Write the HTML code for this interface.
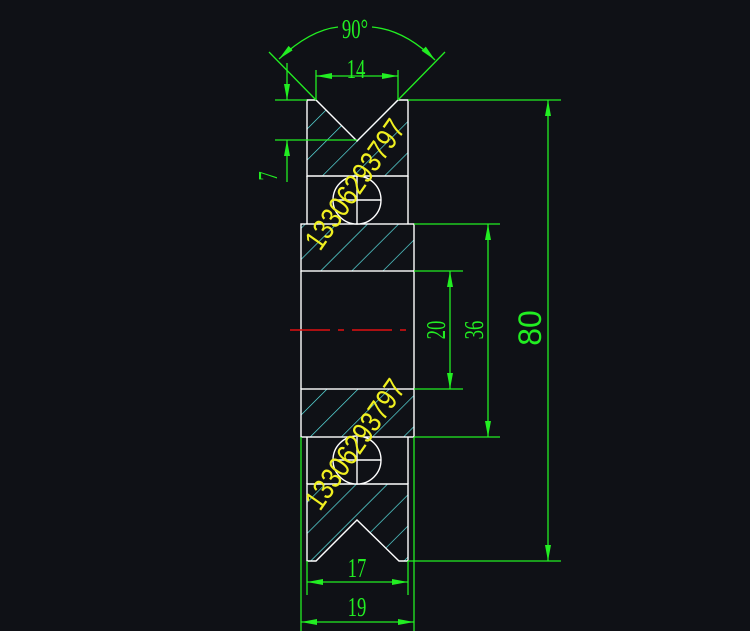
<!DOCTYPE html>
<html><head><style>html,body{margin:0;padding:0;background:#0f1116;}svg{display:block}</style></head>
<body>
<svg width="750" height="631" viewBox="0 0 750 631" xmlns="http://www.w3.org/2000/svg">
<defs>
<pattern id="h" patternUnits="userSpaceOnUse" width="22" height="22" patternTransform="rotate(45)">
<line x1="0" y1="0" x2="0" y2="22" stroke="#5ff0f0" stroke-width="1.3"/>
</pattern>
<marker id="a" viewBox="0 0 16 6" refX="16" refY="3" markerWidth="16" markerHeight="6" markerUnits="userSpaceOnUse" orient="auto-start-reverse">
<path d="M0,0 L16,3 L0,6 z" fill="#22ee22"/>
</marker>
</defs>
<rect width="750" height="631" fill="#0f1116"/>
<g fill="url(#h)" stroke="#fff" stroke-width="1.4">
<polygon points="307,100 316,100 357,141 398,100 408,100 408,176 307,176"/>
<rect x="301" y="224" width="113" height="47"/>
<rect x="301" y="389" width="113" height="48"/>
<polygon points="307,484 408,484 408,561 399,561 357,520 316,561 307,561"/>
</g>
<g fill="none" stroke="#fff" stroke-width="1.4">
<line x1="307" y1="176" x2="307" y2="224"/><line x1="408" y1="176" x2="408" y2="224"/>
<line x1="301" y1="271" x2="301" y2="389"/><line x1="414" y1="271" x2="414" y2="389"/>
<line x1="307" y1="437" x2="307" y2="484"/><line x1="408" y1="437" x2="408" y2="484"/>
<circle cx="357" cy="200" r="24" fill="#0f1116"/>
<line x1="333" y1="200" x2="381" y2="200"/><line x1="357" y1="176" x2="357" y2="224"/>
<circle cx="357" cy="460" r="24" fill="#0f1116"/>
<line x1="333" y1="460" x2="381" y2="460"/><line x1="357" y1="437" x2="357" y2="484"/>
</g>
<line x1="290" y1="330" x2="410" y2="330" stroke="#e01010" stroke-width="1.4" stroke-dasharray="40,8,6,8"/>
<g stroke="#22ee22" stroke-width="1.3" fill="none">
<line x1="408" y1="100" x2="561" y2="100"/><line x1="408" y1="561" x2="561" y2="561"/>
<line x1="548" y1="100" x2="548" y2="561" marker-start="url(#a)" marker-end="url(#a)"/>
<line x1="414" y1="224" x2="500" y2="224"/><line x1="414" y1="437" x2="500" y2="437"/>
<line x1="488" y1="224" x2="488" y2="437" marker-start="url(#a)" marker-end="url(#a)"/>
<line x1="414" y1="271" x2="463" y2="271"/><line x1="414" y1="389" x2="463" y2="389"/>
<line x1="450" y1="271" x2="450" y2="389" marker-start="url(#a)" marker-end="url(#a)"/>
<line x1="301" y1="437" x2="301" y2="631"/><line x1="414" y1="437" x2="414" y2="631"/>
<line x1="301" y1="622" x2="414" y2="622" marker-start="url(#a)" marker-end="url(#a)"/>
<line x1="307" y1="561" x2="307" y2="595"/><line x1="408" y1="561" x2="408" y2="595"/>
<line x1="307" y1="582" x2="408" y2="582" marker-start="url(#a)" marker-end="url(#a)"/>
<line x1="316" y1="100" x2="316" y2="70"/><line x1="398" y1="100" x2="398" y2="70"/>
<line x1="316" y1="76" x2="398" y2="76" marker-start="url(#a)" marker-end="url(#a)"/>
<line x1="275" y1="100" x2="307" y2="100"/><line x1="275" y1="140" x2="357" y2="140"/>
<line x1="287" y1="63" x2="287" y2="100" marker-end="url(#a)"/>
<line x1="287" y1="182" x2="287" y2="140" marker-end="url(#a)"/>
<line x1="316" y1="100" x2="269" y2="52"/><line x1="398" y1="100" x2="445" y2="52"/>
<path d="M279,59 Q310,30 338,27" marker-start="url(#a)"/>
<path d="M372,27 Q405,30 435,60" marker-end="url(#a)"/>
</g>
<g fill="#22ee22" font-family="Liberation Serif, serif" font-size="22" text-anchor="middle">
<text transform="translate(356,78) scale(0.85,1.25)">14</text>
<text transform="translate(357,577) scale(0.85,1.25)">17</text>
<text transform="translate(357,616) scale(0.85,1.25)">19</text>
<text transform="translate(355,38) scale(0.85,1.25)">90°</text>
<text transform="translate(445,330) rotate(-90) scale(0.85,1.25)">20</text>
<text transform="translate(483,330) rotate(-90) scale(0.85,1.25)">36</text>
<text transform="translate(277,176) rotate(-90) scale(0.85,1.25)">7</text>
<text transform="translate(541,328) rotate(-90)" font-family="Liberation Sans, sans-serif" font-size="32">80</text>
</g>
<g fill="#f0f020" font-family="Liberation Sans, sans-serif" font-size="26">
<text transform="translate(320,252) rotate(-55) scale(0.95,1.15)">13306293797</text>
<text transform="translate(320,512) rotate(-55) scale(0.95,1.15)">13306293797</text>
</g>
</svg>
</body></html>
